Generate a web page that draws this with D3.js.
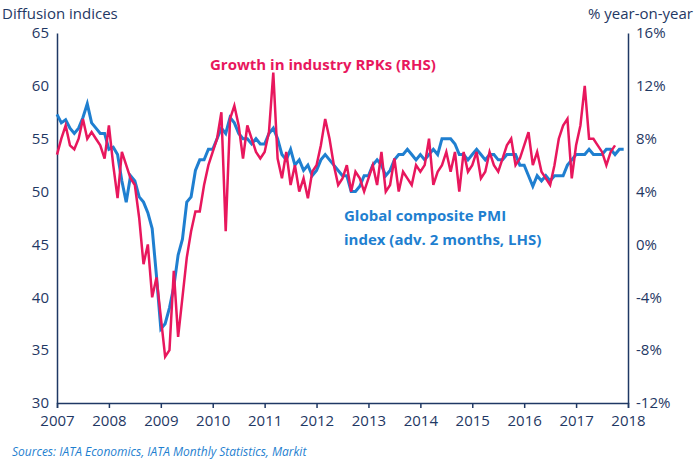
<!DOCTYPE html>
<html><head><meta charset="utf-8">
<script src="https://cdn.jsdelivr.net/npm/d3@7"></script>
<style>body{margin:0;background:#fff;font-family:"Open Sans",sans-serif}</style>
</head><body>
<svg id="chart" width="695" height="463"></svg>
<script>
// monthly values, Jan 2007 onwards
const pmi = [
  57.3,56.5,56.8,56,55.5,56,57,58.3,56.5,56,55.5,55.5,
  54,54.2,53.5,51,49,51.5,51,49.5,49,48,46.5,42,
  37,37.5,39,41,44,45.5,49,49.5,52,53,53,54,
  54,55,56,55.5,57,56.5,55.5,55,55,54.5,55,54.5,
  54.5,55.5,56,55,53.5,53,54,52.5,53,52,52.5,51.5,
  52,53,53.5,53,52.5,52,51.5,51.5,50,50,50.5,51.5,
  51.5,52.5,53,52.5,51.5,52,53,53.5,53.5,54,53.5,53,
  53.5,53,53.5,54,53.5,55,55,55,54.5,53.5,53.5,53,
  53.5,54,53.5,53,53.5,53.5,53,53,53.5,53.5,53.5,52.5,
  52.5,51.5,50.5,51.5,51,51.5,51,51.5,51.5,51.5,52.5,53,
  53.5,53.5,53.5,54,53.5,53.5,53.5,54,54,53.5,54,54
];
const rpk = [
  6.8,8,9,7.5,7.2,8,9.5,8,8.5,8,7.5,6.5,
  9,6,3.5,7,6,5,4.5,2,-1.5,0,-4,-2.5,
  -5.5,-8.5,-8,-2,-7,-4,-1,1,2.5,2.5,4.5,6,
  7,8,10,1,9.5,10.5,9,6.5,9,8,7,6.5,
  7,8.5,13,6.5,5,7,4.5,6,4,5,3.5,5.5,
  6,7.5,9.5,8,6,4.5,5,6,4,5.5,5,4,
  5,6,4.5,7,4,4.5,6.5,4,5.5,5,4.5,6,
  5.5,6,8,4.5,5.5,6,7,5.5,7,4,7,5.5,
  6,7,5,5.5,7,6,5.5,6.5,7.5,8,6,6.5,
  7.5,8.5,6,7,5.5,5,4.5,6,8,9,9.5,5,
  7.5,9,12,8,8,7.5,7,6,7,7.5
];
const years = d3.range(2007, 2019);
const leftTicks = [30,35,40,45,50,55,60,65];
const rightTicks = [-12,-8,-4,0,4,8,12,16];

const navy = "#1f3864", blue = "#1f7fd0", red = "#e8175d";
const svg = d3.select("#chart");
const x = d3.scaleLinear().domain([2007, 2018]).range([57, 628]);
const yL = d3.scaleLinear().domain([30, 65]).range([403, 33]);
const yR = d3.scaleLinear().domain([-12, 16]).range([403, 33]);
const t = i => 2007 + i / 12;

const gx = svg.append("g").attr("transform", "translate(0,403)")
  .call(d3.axisBottom(x).tickValues(years).tickFormat(d3.format("d")).tickSize(5));
const gl = svg.append("g").attr("transform", "translate(57,0)")
  .call(d3.axisLeft(yL).tickValues(leftTicks).tickSize(0).tickPadding(8));
const gr = svg.append("g").attr("transform", "translate(628,0)")
  .call(d3.axisRight(yR).tickValues(rightTicks).tickFormat(d => d + "%").tickSize(0).tickPadding(8));
[gx, gl, gr].forEach(g => {
  g.selectAll("path,line").attr("stroke", navy).attr("stroke-width", 1.5);
  g.selectAll("text").attr("fill", navy).style("font-size", "15px").style("font-family", "Open Sans");
});
gx.selectAll("text").attr("dy", "1em");

svg.append("path").datum(pmi)
  .attr("fill", "none").attr("stroke", blue).attr("stroke-width", 3)
  .attr("d", d3.line().x((d, i) => x(t(i))).y(d => yL(d)));
svg.append("path").datum(rpk)
  .attr("fill", "none").attr("stroke", red).attr("stroke-width", 2.5)
  .attr("d", d3.line().x((d, i) => x(t(i))).y(d => yR(d)));

const txt = (X, Y, s, o = {}) => svg.append("text").attr("x", X).attr("y", Y)
  .attr("fill", o.fill || navy).attr("text-anchor", o.anchor || "start")
  .style("font-size", (o.size || 15) + "px").style("font-weight", o.bold ? "bold" : null)
  .style("font-style", o.italic ? "italic" : null).text(s);
txt(2, 19, "Diffusion indices");
txt(693, 19, "% year-on-year", {anchor: "end"});
txt(210, 70, "Growth in industry RPKs (RHS)", {fill: red, bold: true});
txt(344, 221, "Global composite PMI", {fill: blue, bold: true});
txt(344, 245, "index (adv. 2 months, LHS)", {fill: blue, bold: true});
txt(12, 456, "Sources: IATA Economics, IATA Monthly Statistics, Markit", {fill: blue, italic: true, size: 12});
</script>
</body></html>
